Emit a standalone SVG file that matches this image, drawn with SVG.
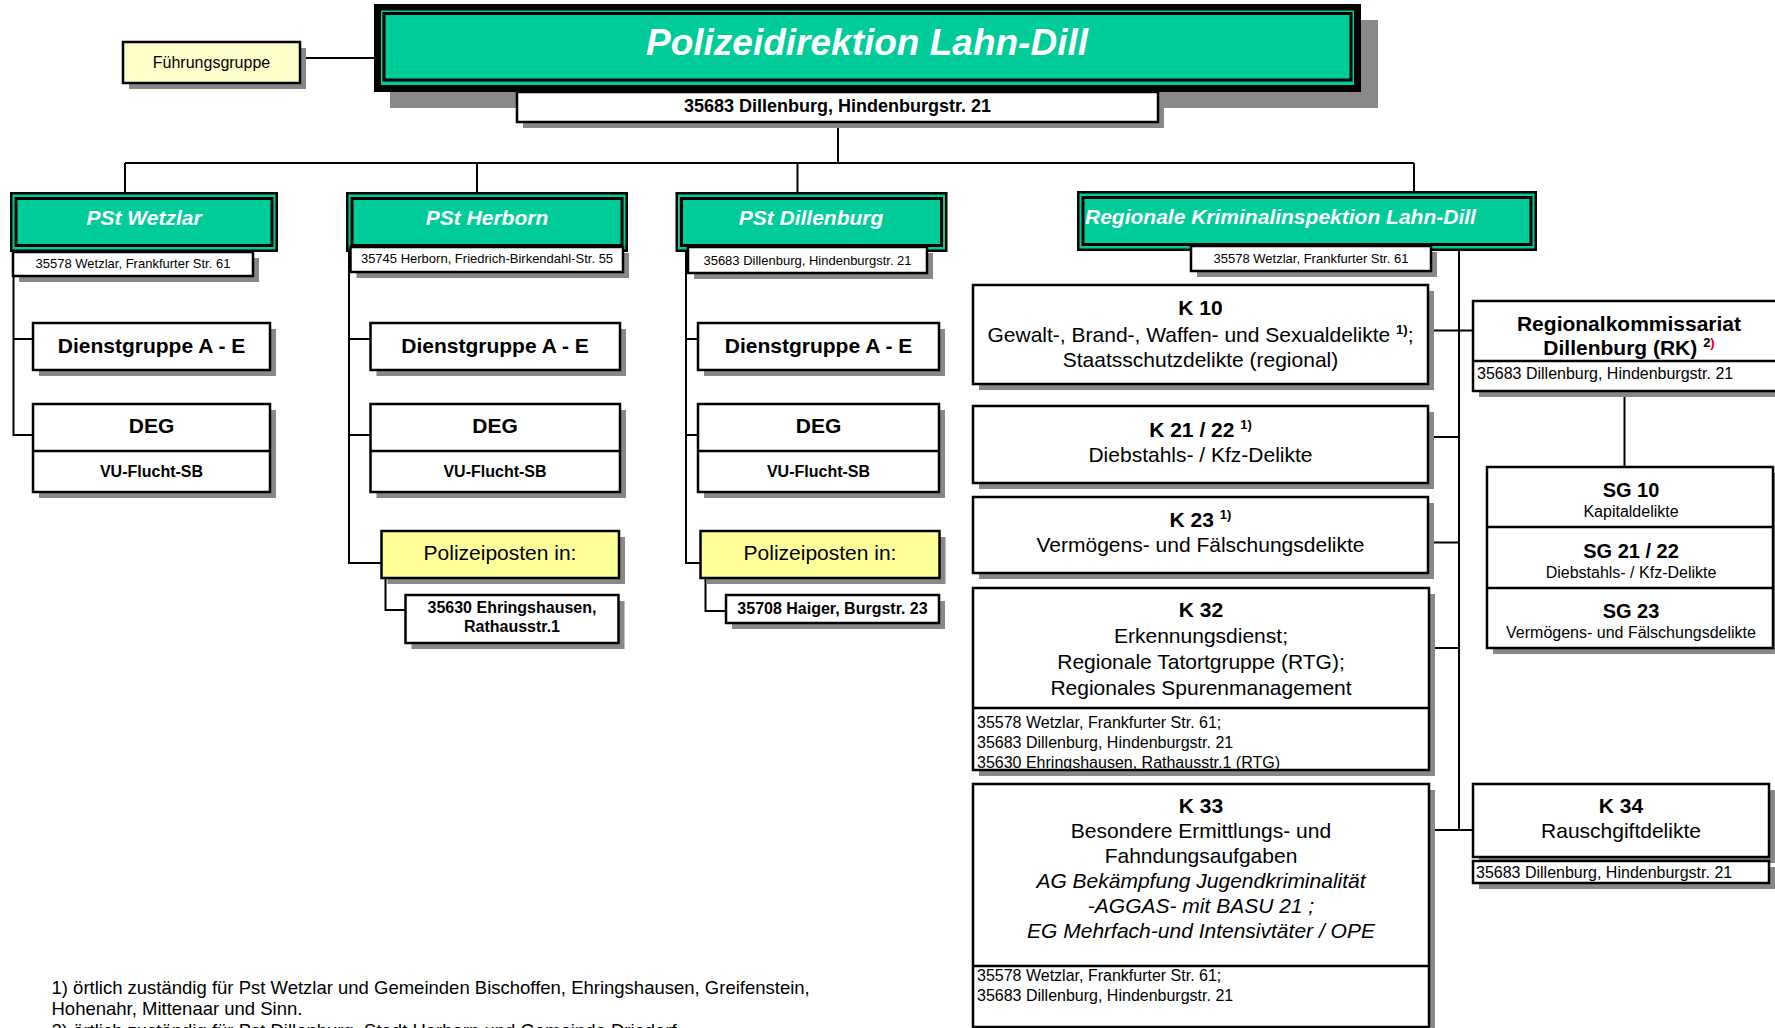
<svg xmlns="http://www.w3.org/2000/svg" width="1775" height="1028" viewBox="0 0 1775 1028">
<style>
text{font-family:"Liberation Sans",Arial,Helvetica,sans-serif;fill:#000}
.sh{fill:#888}
.bx{fill:#fff;stroke:#000;stroke-width:2.5}
.yl{fill:#ffff99;stroke:#000;stroke-width:2.5}
.fg{fill:#ffffcc;stroke:#000;stroke-width:2.5}
.go{fill:#00cc99;stroke:#000;stroke-width:2.5}
.gi{fill:#00cc99;stroke:#000;stroke-width:3}
.ln{fill:none;stroke:#000;stroke-width:2.5}
.cn{fill:none;stroke:#000;stroke-width:2}
.pt{font-size:21px;font-weight:bold;font-style:italic;fill:#fff}
.ad{font-size:13px;text-anchor:middle}
.b21{font-size:21px;font-weight:bold;text-anchor:middle}
.r21{font-size:21px;text-anchor:middle}
.i21{font-size:21px;font-style:italic;text-anchor:middle}
.b16{font-size:16px;font-weight:bold;text-anchor:middle}
.r16{font-size:16px}
.c16{font-size:16px;text-anchor:middle}
.b20{font-size:20px;font-weight:bold;text-anchor:middle}
.sup{font-size:13px;font-weight:bold}
.fn{font-size:18.5px}
</style>

<g id="connectors">
<path class="cn" d="M300,58 H374"/>
<path class="cn" d="M838,122 V163"/>
<path class="cn" d="M125,163 H1414"/>
<path class="cn" d="M125,163 V193 M477,163 V193 M797.5,163 V193 M1414,163 V192"/>
<path class="cn" d="M13.5,252 V435 H33 M13.5,339 H33"/>
<path class="cn" d="M349,252 V563 H381.5 M349,339 H370.5 M349,435 H370.5"/>
<path class="cn" d="M686,252 V563 H700.5 M686,339 H698 M686,435 H698"/>
<path class="cn" d="M385.5,578 V610 H405.5"/>
<path class="cn" d="M705.5,578 V611 H726"/>
<path class="cn" d="M1459,251 V830"/>
<path class="cn" d="M1428,330.5 H1473 M1428,437 H1459 M1428,542.5 H1459 M1429,648 H1459 M1429,830 H1473"/>
<path class="cn" d="M1624.5,391 V467"/>
</g>

<g id="fuehrungsgruppe">
<rect class="sh" x="129" y="48" width="177" height="41"/>
<rect class="fg" x="123" y="42" width="177" height="41"/>
<text x="211.5" y="68" font-size="16" text-anchor="middle">Führungsgruppe</text>
</g>

<g id="polizeidirektion">
<rect class="sh" x="390" y="20" width="988" height="88"/>
<rect x="374" y="4" width="987" height="88" fill="#000"/>
<rect x="381" y="10.5" width="973" height="74.5" fill="#00cc99"/>
<rect class="gi" x="384" y="13.5" width="967" height="66.5"/>
<text x="867" y="55" font-size="37" font-weight="bold" font-style="italic" fill="#fff" text-anchor="middle" style="fill:#fff">Polizeidirektion Lahn-Dill</text>
<rect class="sh" x="523" y="98" width="641" height="30"/>
<rect class="bx" x="517" y="92" width="641" height="30"/>
<text x="837.5" y="112" font-size="18" font-weight="bold" text-anchor="middle">35683 Dillenburg, Hindenburgstr. 21</text>
</g>

<g id="pst-wetzlar">
<rect class="go" x="11.25" y="193.25" width="265.5" height="57.5"/>
<rect class="gi" x="16" y="198.5" width="256" height="47"/>
<text class="pt" x="144" y="225" text-anchor="middle">PSt Wetzlar</text>
<rect class="sh" x="19" y="258" width="240" height="24"/>
<rect class="bx" x="13" y="252" width="240" height="24"/>
<text class="ad" x="133" y="268">35578  Wetzlar, Frankfurter Str. 61</text>
</g>

<g id="pst-herborn">
<rect class="go" x="347.25" y="193.25" width="279.5" height="57.5"/>
<rect class="gi" x="352" y="198.5" width="270" height="47"/>
<text class="pt" x="487" y="225" text-anchor="middle">PSt Herborn</text>
<rect class="sh" x="356.5" y="253" width="272.5" height="25"/>
<rect class="bx" x="350.5" y="247" width="272.5" height="25"/>
<text class="ad" x="487" y="263">35745 Herborn, Friedrich-Birkendahl-Str. 55</text>
</g>

<g id="pst-dillenburg">
<rect class="go" x="676.75" y="193.25" width="269.5" height="57.5"/>
<rect class="gi" x="681.5" y="198.5" width="260" height="47"/>
<text class="pt" x="811" y="225" text-anchor="middle">PSt Dillenburg</text>
<rect class="sh" x="694" y="253" width="239" height="26"/>
<rect class="bx" x="688" y="247" width="239" height="26"/>
<text class="ad" x="807.5" y="265">35683 Dillenburg, Hindenburgstr. 21</text>
</g>

<g id="rki">
<rect class="go" x="1078.25" y="192.25" width="457.5" height="57.5"/>
<rect class="gi" x="1083" y="197.5" width="448" height="47"/>
<text class="pt" x="1085" y="224">Regionale Kriminalinspektion Lahn-Dill</text>
<rect class="sh" x="1197" y="252" width="240" height="25"/>
<rect class="bx" x="1191" y="246" width="240" height="25"/>
<text class="ad" x="1311" y="263">35578  Wetzlar, Frankfurter Str. 61</text>
</g>

<g id="dg-wetzlar">
<rect class="sh" x="39" y="329" width="237" height="47"/>
<rect class="bx" x="33" y="323" width="237" height="47"/>
<text class="b21" x="151.5" y="353">Dienstgruppe A - E</text>
</g>
<g id="deg-wetzlar">
<rect class="sh" x="39" y="410" width="237" height="88"/>
<rect class="bx" x="33" y="404" width="237" height="88"/>
<path class="ln" d="M33,451 H270"/>
<text class="b21" x="151.5" y="433">DEG</text>
<text class="b16" x="151.5" y="477">VU-Flucht-SB</text>
</g>

<g id="dg-herborn">
<rect class="sh" x="376.5" y="329" width="249.5" height="47"/>
<rect class="bx" x="370.5" y="323" width="249.5" height="47"/>
<text class="b21" x="495" y="353">Dienstgruppe A - E</text>
</g>
<g id="deg-herborn">
<rect class="sh" x="376.5" y="410" width="249.5" height="88"/>
<rect class="bx" x="370.5" y="404" width="249.5" height="88"/>
<path class="ln" d="M370.5,451 H620"/>
<text class="b21" x="495" y="433">DEG</text>
<text class="b16" x="495" y="477">VU-Flucht-SB</text>
</g>
<g id="pp-herborn">
<rect class="sh" x="387.5" y="537" width="237.5" height="47"/>
<rect class="yl" x="381.5" y="531" width="237.5" height="47"/>
<text class="r21" x="500" y="560">Polizeiposten in:</text>
</g>
<g id="pp-ehringshausen">
<rect class="sh" x="411.5" y="601" width="213" height="48"/>
<rect class="bx" x="405.5" y="595" width="213" height="48"/>
<text class="b16" x="512" y="613">35630 Ehringshausen,</text>
<text class="b16" x="512" y="632">Rathausstr.1</text>
</g>

<g id="dg-dillenburg">
<rect class="sh" x="704" y="329" width="241" height="47"/>
<rect class="bx" x="698" y="323" width="241" height="47"/>
<text class="b21" x="818.5" y="353">Dienstgruppe A - E</text>
</g>
<g id="deg-dillenburg">
<rect class="sh" x="704" y="410" width="241" height="88"/>
<rect class="bx" x="698" y="404" width="241" height="88"/>
<path class="ln" d="M698,451 H939"/>
<text class="b21" x="818.5" y="433">DEG</text>
<text class="b16" x="818.5" y="477">VU-Flucht-SB</text>
</g>
<g id="pp-dillenburg">
<rect class="sh" x="706.5" y="537" width="239" height="47"/>
<rect class="yl" x="700.5" y="531" width="239" height="47"/>
<text class="r21" x="820" y="560">Polizeiposten in:</text>
</g>
<g id="pp-haiger">
<rect class="sh" x="732" y="601" width="213" height="28"/>
<rect class="bx" x="726" y="595" width="213" height="28"/>
<text class="b16" x="832.5" y="614">35708 Haiger, Burgstr. 23</text>
</g>

<g id="k10">
<rect class="sh" x="979" y="291" width="455" height="99"/>
<rect class="bx" x="973" y="285" width="455" height="99"/>
<text class="b21" x="1200.5" y="315">K 10</text>
<text class="r21" x="1200.5" y="342">Gewalt-, Brand-, Waffen- und Sexualdelikte <tspan class="sup" dy="-8">1)</tspan><tspan dy="8">;</tspan></text>
<text class="r21" x="1200.5" y="367">Staatsschutzdelikte (regional)</text>
</g>
<g id="k21">
<rect class="sh" x="979" y="412" width="455" height="77"/>
<rect class="bx" x="973" y="406" width="455" height="77"/>
<text class="b21" x="1200.5" y="437">K 21 / 22 <tspan class="sup" dy="-8">1)</tspan></text>
<text class="r21" x="1200.5" y="462">Diebstahls- / Kfz-Delikte</text>
</g>
<g id="k23">
<rect class="sh" x="979" y="503" width="455" height="76"/>
<rect class="bx" x="973" y="497" width="455" height="76"/>
<text class="b21" x="1200.5" y="527">K 23 <tspan class="sup" dy="-8">1)</tspan></text>
<text class="r21" x="1200.5" y="552">Vermögens- und Fälschungsdelikte</text>
</g>
<g id="k32">
<rect class="sh" x="979" y="594" width="456" height="182"/>
<rect class="bx" x="973" y="588" width="456" height="182"/>
<path class="ln" d="M973,708 H1429"/>
<text class="b21" x="1201" y="617">K 32</text>
<text class="r21" x="1201" y="643">Erkennungsdienst;</text>
<text class="r21" x="1201" y="669">Regionale Tatortgruppe (RTG);</text>
<text class="r21" x="1201" y="695">Regionales Spurenmanagement</text>
<text class="r16" x="977" y="728">35578 Wetzlar, Frankfurter Str. 61;</text>
<text class="r16" x="977" y="748">35683 Dillenburg, Hindenburgstr. 21</text>
<text class="r16" x="977" y="768">35630 Ehringshausen, Rathausstr.1 (RTG)</text>
</g>
<g id="k33">
<rect class="sh" x="979" y="790" width="456" height="243"/>
<rect class="bx" x="973" y="784" width="456" height="243"/>
<path class="ln" d="M973,966 H1429"/>
<text class="b21" x="1201" y="813">K 33</text>
<text class="r21" x="1201" y="838">Besondere Ermittlungs- und</text>
<text class="r21" x="1201" y="863">Fahndungsaufgaben</text>
<text class="i21" x="1201" y="888">AG Bekämpfung Jugendkriminalität</text>
<text class="i21" x="1201" y="913">-AGGAS- mit BASU 21 ;</text>
<text class="i21" x="1201" y="938">EG Mehrfach-und Intensivtäter / OPE</text>
<text class="r16" x="977" y="981">35578 Wetzlar, Frankfurter Str. 61;</text>
<text class="r16" x="977" y="1001">35683 Dillenburg, Hindenburgstr. 21</text>
</g>

<g id="rk">
<rect class="sh" x="1479" y="307" width="310" height="90"/>
<rect class="bx" x="1473" y="301" width="310" height="90"/>
<path class="ln" d="M1473,361 H1783"/>
<text class="b21" x="1629" y="331">Regionalkommissariat</text>
<text class="b21" x="1629" y="355">Dillenburg (RK) <tspan class="sup" dy="-8">2</tspan><tspan class="sup" style="fill:#e00000">)</tspan></text>
<text class="r16" x="1477" y="379">35683 Dillenburg, Hindenburgstr. 21</text>
</g>
<g id="sg">
<rect class="sh" x="1493" y="473" width="286" height="181"/>
<rect class="bx" x="1487" y="467" width="286" height="181"/>
<path class="ln" d="M1487,527 H1773 M1487,588 H1773"/>
<text class="b20" x="1631" y="497">SG 10</text>
<text class="c16" x="1631" y="517">Kapitaldelikte</text>
<text class="b20" x="1631" y="558">SG 21 / 22</text>
<text class="c16" x="1631" y="578">Diebstahls- / Kfz-Delikte</text>
<text class="b20" x="1631" y="618">SG 23</text>
<text class="c16" x="1631" y="638">Vermögens- und Fälschungsdelikte</text>
</g>
<g id="k34">
<rect class="sh" x="1479" y="790" width="296" height="73"/>
<rect class="bx" x="1473" y="784" width="296" height="73"/>
<text class="b21" x="1621" y="813">K 34</text>
<text class="r21" x="1621" y="838">Rauschgiftdelikte</text>
<rect class="sh" x="1479" y="867" width="296" height="22"/>
<rect class="bx" x="1473" y="861" width="296" height="22"/>
<text class="r16" x="1476" y="878">35683 Dillenburg, Hindenburgstr. 21</text>
</g>

<g id="footnotes">
<text class="fn" x="51.5" y="994">1) örtlich zuständig für Pst Wetzlar und Gemeinden Bischoffen, Ehringshausen, Greifenstein,</text>
<text class="fn" x="51.5" y="1015">Hohenahr, Mittenaar und Sinn.</text>
<text class="fn" x="51.5" y="1037">2) örtlich zuständig für Pst Dillenburg, Stadt Herborn und Gemeinde Driedorf</text>
</g>
</svg>
